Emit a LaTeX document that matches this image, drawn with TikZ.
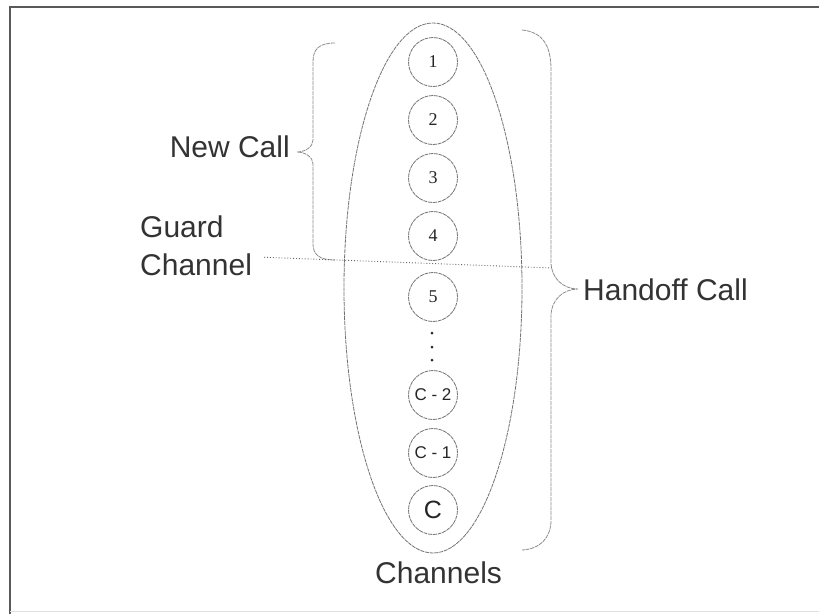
\documentclass[tikz,border=0pt]{standalone}
\usepackage{fontspec}
\usetikzlibrary{shapes.geometric}
\setmainfont{Liberation Sans}
\newfontfamily\serifnum{Liberation Serif}
\begin{document}
\begin{tikzpicture}[x=1pt,y=-1pt,
  sketch/.style={draw=black!55, line width=0.8pt, dash pattern=on 4pt off 0.8pt},
  chan/.style={circle, sketch, minimum size=49pt, inner sep=0pt, text=black!85},
  numlab/.style={font=\serifnum\fontsize{18}{20}\selectfont},
  sanslab/.style={font=\fontsize{17}{20}\selectfont},
  biglab/.style={text=black!80, inner sep=0pt, font=\fontsize{30}{38}\selectfont},
  bracestyle/.style={draw=black!45, line width=0.8pt, dash pattern=on 4pt off 0.8pt},
  chdot/.style={circle, fill=black!85, inner sep=0pt, minimum size=3pt}]
\useasboundingbox (0,0) rectangle (819,614);
\fill[white] (0,0) rectangle (819,614);
% frame
\draw[black!65, line width=1.5pt] (10,614) -- (10,7) -- (819,7);
\draw[black!12, line width=1pt] (10,611) -- (819,611);
% big ellipse
\node[ellipse, sketch, minimum width=178pt, minimum height=530pt, inner sep=0pt] (ell) at (433,288) {};
% channel circles
\node[chan, numlab] (c1) at (433,62) {1};
\node[chan, numlab] (c2) at (433,120) {2};
\node[chan, numlab] (c3) at (433,178) {3};
\node[chan, numlab] (c4) at (433,236) {4};
\node[chan, numlab] (c5) at (433,297) {5};
\node[chdot] (d1) at (432,333) {};
\node[chdot] (d2) at (432,347) {};
\node[chdot] (d3) at (432,360) {};
\node[chan, sanslab] (cm2) at (433,395) {C - 2};
\node[chan, sanslab] (cm1) at (433,453) {C - 1};
\node[chan, font=\fontsize{25}{28}\selectfont] (cc) at (433,510) {C};
% labels
\coordinate (ncTip) at (297,152);
\coordinate (hoTip) at (578,289);
\node[biglab, anchor=base east] (newcall) at (290,157) {New Call};
\node[biglab, anchor=base west] (handoff) at (583,300) {Handoff Call};
\node[biglab, anchor=base west] (guard) at (140,237) {Guard};
\node[biglab, anchor=base west] (gchan) at (140,275) {Channel};
\node[biglab, anchor=base west] (chans) at (375,583) {Channels};
% New Call brace
\draw[bracestyle] (335,43) .. controls (318,43) and (313,50) .. (313,62)
  -- (313,140) .. controls (313,147) and (305,152) .. (ncTip)
  .. controls (305,152) and (313,157) .. (313,164)
  -- (313,244) .. controls (313,255) and (320,260) .. (335,260);
% Handoff brace
\draw[bracestyle] (522,30) .. controls (543,32) and (551,46) .. (551,70)
  -- (551,262) .. controls (551,278) and (563,289) .. (hoTip)
  .. controls (563,289) and (551,300) .. (551,316)
  -- (551,520) .. controls (551,538) and (540,549) .. (522,550);
% guard channel dotted line
\coordinate (gEnd) at (552,268);
\draw[black!60, line width=0.9pt, dotted] (gchan.east) ++(12,-7) coordinate (gStart) -- (gEnd);
\end{tikzpicture}
\end{document}
